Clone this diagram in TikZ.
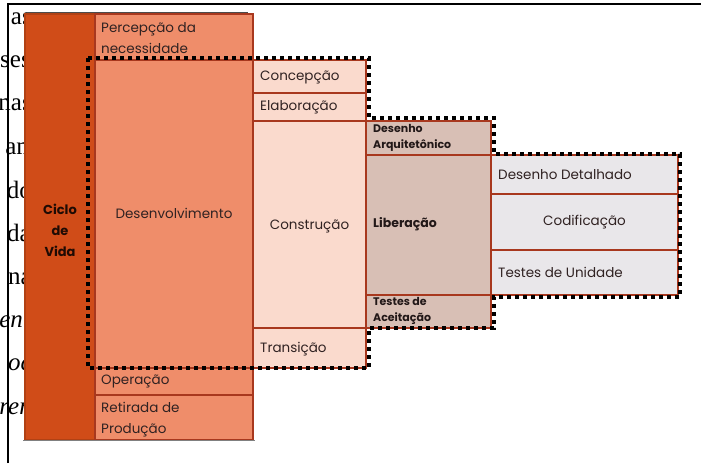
\documentclass[tikz,border=0pt]{standalone}
\usepackage{fontspec}
\setmainfont{Poppins}
\newfontfamily\paginafont{Liberation Serif}
\usetikzlibrary{positioning}
\definecolor{ciclo}{RGB}{208,76,24}
\definecolor{fase}{RGB}{239,141,106}
\definecolor{etapa}{RGB}{250,218,205}
\definecolor{ativ}{RGB}{216,191,181}
\definecolor{tarefa}{RGB}{233,231,234}
\definecolor{borda}{RGB}{168,56,30}
\definecolor{texto}{RGB}{48,34,34}
\tikzset{
    box/.style={draw=borda, line width=1.5pt, anchor=north west, inner sep=0pt, outer sep=0pt},
    lbl/.style={text=texto, font=\fontsize{13.5}{21}\selectfont, align=left, inner sep=0pt},
    blbl/.style={text=texto!70!black, font=\bfseries\fontsize{11}{16}\selectfont, align=left, inner sep=0pt},
    trilha/.style={line width=3.5pt, dash pattern=on 4pt off 4pt},
    pagina/.style={font=\paginafont\fontsize{25}{25}\selectfont, anchor=base east, inner sep=0pt}
}

\begin{document}
\begin{tikzpicture}[x=1pt, y=-1pt]
        \useasboundingbox (0,0) rectangle (701,463);
        % page text behind the figure
        \begin{scope}
            \clip (0,0) rectangle (26,463);
            \node[pagina] (p1) at (32,24) {as};
            \node[pagina] (p2) at (31,67) {ses};
            \node[pagina] (p3) at (32,110) {nas};
            \node[pagina] (p4) at (36,154) {am};
            \node[pagina] (p5) at (32,198) {do};
            \node[pagina] (p6) at (31,241) {da};
            \node[pagina] (p7) at (32,284) {na};
            \node[pagina] (p8) at (30,327) {\itshape eni};
            \node[pagina] (p9) at (32,370) {\itshape oc};
            \node[pagina] (p10) at (32,414) {\itshape ren};
        \end{scope}
        % frame
        \draw[line width=2pt] (8,463) -- (8,3.5) -- (701,3.5);
        % ciclo de vida
        \node[box, draw=ciclo!85!black, fill=ciclo, minimum width=70, minimum height=426] (ciclo) at (25,14) {};
        \node[text=black!85!ciclo, font=\bfseries\fontsize{13}{21}\selectfont, align=center, inner sep=0pt] (tciclo) at (60,230) {Ciclo\\de\\Vida};
        % fases
        \node[box, fill=fase, minimum width=158, minimum height=46] (perc) at (95,14) {};
        \node[box, fill=fase, minimum width=158, minimum height=308] (desenv) at (95,60) {};
        \node[box, fill=fase, minimum width=158, minimum height=27] (oper) at (95,368) {};
        \node[box, fill=fase, minimum width=158, minimum height=45] (retir) at (95,395) {};
        \node[lbl, anchor=west] (tperc) at ([xshift=6pt, yshift=-1pt]perc.west) {Percepção da\\necessidade};
        \node[lbl] (tdesenv) at ([yshift=1pt]desenv.center) {Desenvolvimento};
        \node[lbl, anchor=west] (toper) at ([xshift=6pt]oper.west) {Operação};
        \node[lbl, anchor=west] (tretir) at ([xshift=6pt, yshift=-2pt]retir.west) {Retirada de\\Produção};
        % etapas
        \node[box, fill=etapa, minimum width=113, minimum height=33] (conc) at (253,60) {};
        \node[box, fill=etapa, minimum width=113, minimum height=28] (elab) at (253,93) {};
        \node[box, fill=etapa, minimum width=113, minimum height=207] (constr) at (253,121) {};
        \node[box, fill=etapa, minimum width=113, minimum height=40] (trans) at (253,328) {};
        \node[lbl, anchor=west] (tconc) at ([xshift=7pt, yshift=-1pt]conc.west) {Concepção};
        \node[lbl, anchor=west] (telab) at ([xshift=7pt]elab.west) {Elaboração};
        \node[lbl] (tconstr) at ([yshift=-2pt]constr.center) {Construção};
        \node[lbl, anchor=west] (ttrans) at ([xshift=7pt, yshift=-1pt]trans.west) {Transição};
        % atividades
        \node[box, fill=ativ, minimum width=125, minimum height=34] (desarq) at (366,121) {};
        \node[box, fill=ativ, minimum width=125, minimum height=140] (liber) at (366,155) {};
        \node[box, fill=ativ, minimum width=125, minimum height=33] (testac) at (366,295) {};
        \node[blbl, anchor=west] (tdesarq) at ([xshift=7pt]desarq.west) {Desenho\\Arquitetônico};
        \node[blbl, anchor=west, font=\bfseries\fontsize{12.5}{16}\selectfont] (tliber) at ([xshift=7pt, yshift=1pt]liber.west) {Liberação};
        \node[blbl, anchor=west] (ttestac) at ([xshift=7pt, yshift=1pt]testac.west) {Testes de\\Aceitação};
        % tarefas
        \node[box, fill=tarefa, minimum width=187, minimum height=39] (desdet) at (491,155) {};
        \node[box, fill=tarefa, minimum width=187, minimum height=56] (codif) at (491,194) {};
        \node[box, fill=tarefa, minimum width=187, minimum height=45] (testun) at (491,250) {};
        \node[lbl, anchor=west] (tdesdet) at ([xshift=7pt]desdet.west) {Desenho Detalhado};
        \node[lbl] (tcodif) at (codif.center) {Codificação};
        \node[lbl, anchor=west] (ttestun) at ([xshift=7pt]testun.west) {Testes de Unidade};
        % outline lines
        \draw[black!70, line width=0.8pt] (27,12) -- (248,12);
        \draw[gray, line width=1.5pt] (23,440.5) -- (255,440.5);
        % dotted staircase
        \draw[trilha] (88,58) -- (369,58) -- (369,118) -- (494,118) -- (494,154)
            -- (680,154) -- (680,297) -- (494,297) -- (494,328) -- (369,328)
            -- (369,368) -- (88,368) -- cycle;
    \end{tikzpicture}
\end{document}
